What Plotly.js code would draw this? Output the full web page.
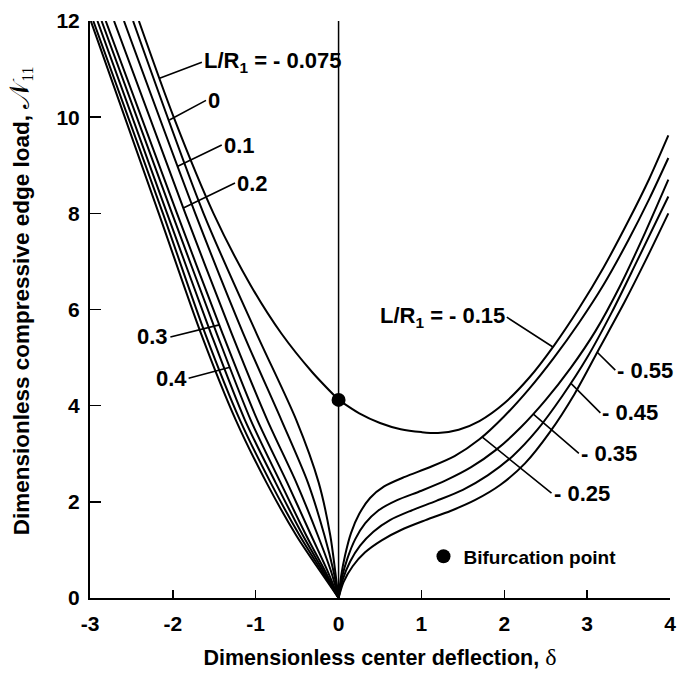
<!DOCTYPE html>
<html>
<head>
<meta charset="utf-8">
<script src="https://cdn.plot.ly/plotly-3.0.1.min.js"></script>
<style>html,body{margin:0;padding:0;background:#fff;}</style>
</head>
<body>
<div id="chart" style="width:677px;height:675px;"></div>
<script>
// Edge load N11 versus center deflection delta for several curvature ratios L/R1.

// Upper path: descends to the bifurcation point at delta = 0 ...
const bifurcationLeftDelta = [-2.41, -1.99, -1.51, -1.06, -0.69, -0.32, 0.00];
const bifurcationLeftLoad  = [12.00, 10.00, 8.00, 6.50, 5.50, 4.70, 4.12];
// ... and rises again on the positive side.
const bifurcationRightDelta = [0.00, 0.25, 0.50, 0.75, 1.00, 1.20, 1.45, 1.70, 2.00, 2.30, 2.60, 2.90, 3.20, 3.50, 3.75, 3.98];
const bifurcationRightLoad  = [4.12, 3.84, 3.64, 3.51, 3.45, 3.43, 3.50, 3.68, 4.05, 4.58, 5.25, 6.02, 6.88, 7.85, 8.72, 9.62];

// Branches on the negative side, all ending at the origin (shared load levels).
const leftLoad = [12.00, 8.00, 5.50, 3.70, 2.40, 1.30, 0.55, 0.00];
const leftDelta0   = [-2.48, -1.63, -0.99, -0.51, -0.24, -0.10, -0.04, 0];
const leftDelta01  = [-2.59, -1.73, -1.15, -0.69, -0.37, -0.17, -0.06, 0];
const leftDelta02  = [-2.71, -1.85, -1.29, -0.86, -0.51, -0.25, -0.09, 0];
const leftDelta03  = [-2.81, -1.95, -1.40, -0.98, -0.62, -0.33, -0.13, 0];
const leftDelta04  = [-2.86, -2.01, -1.47, -1.06, -0.70, -0.39, -0.16, 0];
const leftDeltaA   = [-2.91, -2.07, -1.54, -1.13, -0.76, -0.43, -0.18, 0];
const leftDeltaB   = [-2.96, -2.12, -1.61, -1.19, -0.82, -0.47, -0.20, 0];
const leftDeltaC   = [-2.99, -2.17, -1.66, -1.24, -0.87, -0.51, -0.22, 0];

// Branches on the positive side, rising from the origin.
const rightDelta025 = [0, 0.03, 0.08, 0.15, 0.25, 0.38, 0.55, 0.80, 1.10, 1.40, 1.70, 2.00, 2.30, 2.60, 2.90, 3.20, 3.50, 3.75, 3.98];
const rightLoad025  = [0, 0.45, 0.90, 1.35, 1.75, 2.08, 2.32, 2.52, 2.72, 2.95, 3.30, 3.78, 4.35, 5.00, 5.72, 6.52, 7.45, 8.30, 9.15];
const rightDelta035 = [0, 0.04, 0.11, 0.20, 0.32, 0.48, 0.70, 1.00, 1.30, 1.60, 1.90, 2.20, 2.50, 2.80, 3.10, 3.40, 3.70, 3.98];
const rightLoad035  = [0, 0.42, 0.84, 1.22, 1.55, 1.82, 2.03, 2.23, 2.45, 2.72, 3.08, 3.55, 4.12, 4.78, 5.55, 6.50, 7.60, 8.70];
const rightDelta045 = [0, 0.05, 0.14, 0.26, 0.42, 0.62, 0.88, 1.18, 1.50, 1.80, 2.10, 2.40, 2.70, 3.00, 3.30, 3.60, 3.98];
const rightLoad045  = [0, 0.38, 0.76, 1.09, 1.38, 1.62, 1.82, 2.02, 2.25, 2.55, 2.95, 3.50, 4.20, 5.00, 5.95, 7.00, 8.35];
const rightDelta055 = [0, 0.06, 0.17, 0.32, 0.52, 0.76, 1.05, 1.35, 1.65, 1.95, 2.25, 2.55, 2.85, 3.15, 3.45, 3.70, 3.98];
const rightLoad055  = [0, 0.33, 0.66, 0.95, 1.20, 1.42, 1.62, 1.81, 2.04, 2.35, 2.80, 3.45, 4.25, 5.20, 6.15, 7.00, 8.00];

// Bifurcation point on the upper path.
const bifurcationPointDelta = [0];
const bifurcationPointLoad  = [4.12];

// Axis ticks.
const xTicks = [-3, -2, -1, 0, 1, 2, 3, 4];
const yTicks = [0, 2, 4, 6, 8, 10, 12];

const ink = '#000';
const sans = 'Liberation Sans, Arial, Helvetica, sans-serif';
const curveLine = {color: ink, width: 2, shape: 'spline', smoothing: 0.8};

function curve(x, y) {
  return {x: x, y: y, type: 'scatter', mode: 'lines', line: curveLine, hoverinfo: 'skip', showlegend: false};
}

const leftBranches = [leftDelta0, leftDelta01, leftDelta02, leftDelta03, leftDelta04, leftDeltaA, leftDeltaB, leftDeltaC];

const traces = [curve(bifurcationLeftDelta, bifurcationLeftLoad), curve(bifurcationRightDelta, bifurcationRightLoad)];
leftBranches.forEach(d => traces.push(curve(d, leftLoad)));
traces.push(curve(rightDelta025, rightLoad025));
traces.push(curve(rightDelta035, rightLoad035));
traces.push(curve(rightDelta045, rightLoad045));
traces.push(curve(rightDelta055, rightLoad055));
traces.push({
  x: bifurcationPointDelta, y: bifurcationPointLoad, type: 'scatter', mode: 'markers',
  marker: {color: ink, size: 14}, name: 'Bifurcation point', showlegend: true, hoverinfo: 'skip'
});

// Delta on a curve at a given load level (searching from the start or from the end).
function deltaAt(xs, ys, load, fromEnd) {
  const n = xs.length;
  for (let k = 0; k < n - 1; k++) {
    const i = fromEnd ? n - 2 - k : k;
    const a = ys[i], b = ys[i + 1];
    if ((load - a) * (load - b) <= 0 && a !== b) {
      const t = (load - a) / (b - a);
      return xs[i] + t * (xs[i + 1] - xs[i]);
    }
  }
  return xs[0];
}

// Curve labels: [text, curve x, curve y, load at leader tip, label delta, label load, anchor, search from end]
const labelFont = {family: sans, size: 22, color: ink, weight: 'bold'};
const curveLabels = [
  ['L/R<sub>1</sub> = - 0.075', bifurcationLeftDelta, bifurcationLeftLoad, 10.81, -1.65, 11.14, 'left', false],
  ['0',   leftDelta0,  leftLoad, 9.94, -1.60, 10.35, 'left', false],
  ['0.1', leftDelta01, leftLoad, 8.98, -1.41, 9.42,  'left', false],
  ['0.2', leftDelta02, leftLoad, 8.11, -1.25, 8.63,  'left', false],
  ['0.3', leftDelta03, leftLoad, 5.68, -2.03, 5.43,  'right', false],
  ['0.4', leftDelta04, leftLoad, 4.80, -1.81, 4.57,  'right', false],
  ['L/R<sub>1</sub> = - 0.15', bifurcationRightDelta, bifurcationRightLoad, 5.22, 2.03, 5.84, 'right', true],
  ['- 0.55', rightDelta055, rightLoad055, 5.11, 3.34, 4.74, 'left', true],
  ['- 0.45', rightDelta045, rightLoad045, 4.47, 3.16, 3.85, 'left', true],
  ['- 0.35', rightDelta035, rightLoad035, 3.83, 2.90, 3.01, 'left', true],
  ['- 0.25', rightDelta025, rightLoad025, 3.35, 2.57, 2.18, 'left', true]
];

const annotations = curveLabels.map(L => ({
  text: L[0],
  x: deltaAt(L[1], L[2], L[3], L[7]), y: L[3], xref: 'x', yref: 'y',
  ax: L[4], ay: L[5], axref: 'x', ayref: 'y',
  xanchor: L[6], yanchor: 'middle',
  showarrow: true, arrowhead: 0, arrowwidth: 1.6, arrowcolor: ink, standoff: 0,
  font: labelFont
}));

const serif = "font-family:'Liberation Serif','DejaVu Serif',serif;font-weight:normal";

// Vertical axis title, set as a rotated annotation so it can sit a little above center.
annotations.push({
  text: 'Dimensionless compressive edge load, <span style="' + serif + ';font-size:28px">𝒩</span><span style="' + serif + '"><sub>11</sub></span>',
  xref: 'paper', yref: 'paper', x: -0.12, y: 0.515, xanchor: 'center', yanchor: 'middle',
  textangle: -90, showarrow: false, font: {family: sans, size: 22.5, color: ink, weight: 'bold'}
});

const layout = {
  width: 677, height: 675,
  margin: {l: 90, r: 7, t: 21, b: 77, pad: 0},
  paper_bgcolor: '#fff', plot_bgcolor: '#fff',
  font: {family: sans, size: 20, color: ink, weight: 'bold'},
  xaxis: {
    range: [-3, 4], tickvals: xTicks, ticktext: xTicks.map(String),
    ticks: 'inside', ticklen: 8, tickwidth: 1.5, tickcolor: ink,
    showline: true, linewidth: 2, linecolor: ink, mirror: false,
    showgrid: false, zeroline: false, ticklabelstandoff: 6,
    tickfont: {family: sans, size: 21, weight: 'bold'},
    title: {text: 'Dimensionless center deflection, <span style="' + serif + ';font-size:24px">δ</span>',
            font: {family: sans, size: 21.5, weight: 'bold'}, standoff: 16}
  },
  yaxis: {
    range: [0, 12], tickvals: yTicks, ticktext: yTicks.map(String),
    ticks: 'inside', ticklen: 11, tickwidth: 1.5, tickcolor: ink,
    showline: true, linewidth: 2, linecolor: ink, mirror: false,
    showgrid: false, zeroline: false, ticklabelstandoff: 4,
    tickfont: {family: sans, size: 21, weight: 'bold'}
  },
  shapes: [{type: 'line', xref: 'x', yref: 'y', x0: 0, x1: 0, y0: 0, y1: 12, line: {color: ink, width: 1.5}, layer: 'below'}],
  annotations: annotations,
  showlegend: true,
  legend: {x: 0.575, y: 0.105, xanchor: 'left', yanchor: 'top', bgcolor: 'rgba(0,0,0,0)',
           font: {family: sans, size: 19, weight: 'bold'}, itemwidth: 30}
};

Plotly.newPlot('chart', traces, layout, {displayModeBar: false, staticPlot: true});
</script>
</body>
</html>
